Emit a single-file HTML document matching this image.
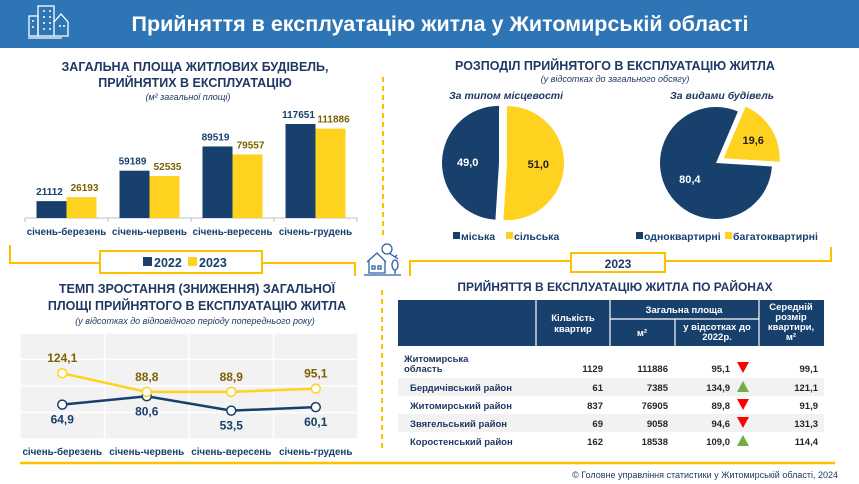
<!DOCTYPE html>
<html><head><meta charset="utf-8">
<style>
body{margin:0;width:859px;height:484px;background:#fff;overflow:hidden;font-family:"Liberation Sans","DejaVu Sans",sans-serif;}
svg{display:block}
</style></head>
<body>
<svg width="859" height="484" viewBox="0 0 859 484" xmlns="http://www.w3.org/2000/svg" font-family="Liberation Sans, DejaVu Sans, sans-serif">
<rect x="0" y="0" width="859" height="48" fill="#2E75B6"/>
<g stroke="#fff" stroke-width="1.3" fill="none">
<rect x="38" y="6" width="16" height="30"/><rect x="29" y="16" width="9" height="20"/><path d="M54 22 L61 14 L68 22 L68 36 L54 36"/><line x1="28" y1="38" x2="62" y2="38"/>
<path d="M43 11h2M49 11h2M43 17h2M49 17h2M43 23h2M49 23h2M43 29h2M49 29h2M32 21h2M32 27h2M59 26h2M63 26h2" stroke-width="1.5"/>
</g>
<text x="440" y="31" text-anchor="middle" font-size="21.5" font-weight="bold" fill="#fff">Прийняття в експлуатацію житла у Житомирській області</text>

<text text-anchor="middle" font-size="12.5" font-weight="bold" fill="#1F3864"><tspan x="195" y="71">ЗАГАЛЬНА ПЛОЩА ЖИТЛОВИХ БУДІВЕЛЬ,</tspan><tspan x="195" y="87">ПРИЙНЯТИХ В ЕКСПЛУАТАЦІЮ</tspan></text>
<text x="188" y="100" text-anchor="middle" font-size="9" font-style="italic" fill="#1F3864">(м² загальної площі)</text>
<g id="bars"></g>

<path d="M10 245 V263 H355 V276" stroke="#FFC000" stroke-width="2" fill="none"/>
<rect x="100" y="251" width="162" height="22" fill="#fff" stroke="#FFC000" stroke-width="2"/>
<rect x="143" y="257" width="9" height="9" fill="#17406D"/>
<text x="154" y="267" font-size="12.5" font-weight="bold" fill="#17406D">2022</text>
<rect x="188" y="257" width="9" height="9" fill="#FFD21F"/>
<text x="199" y="267" font-size="12.5" font-weight="bold" fill="#17406D">2023</text>

<text text-anchor="middle" font-size="12.5" font-weight="bold" fill="#1F3864"><tspan x="197" y="293">ТЕМП ЗРОСТАННЯ (ЗНИЖЕННЯ) ЗАГАЛЬНОЇ</tspan><tspan x="197" y="310">ПЛОЩІ ПРИЙНЯТОГО В ЕКСПЛУАТАЦІЮ ЖИТЛА</tspan></text>
<text x="195" y="324" text-anchor="middle" font-size="9" font-style="italic" fill="#1F3864">(у відсотках до відповідного періоду попереднього року)</text>
<g id="line"></g>
<line x1="20" y1="463" x2="395" y2="463" stroke="#FFC000" stroke-width="2.5"/>

<line x1="383" y1="77" x2="383" y2="236" stroke="#FFC000" stroke-width="2" stroke-dasharray="5,4"/>
<line x1="382" y1="290" x2="382" y2="451" stroke="#FFC000" stroke-width="2" stroke-dasharray="5,4"/>
<g stroke="#2E5FA8" stroke-width="1.3" fill="none">
<circle cx="387" cy="249" r="5"/><path d="M389 253 L398 259 M395 257 L397 255"/>
<path d="M367 262 L377 253 L386 262 M369 261 V273 H385 V261"/><rect x="372" y="266" width="3" height="3"/><rect x="378" y="266" width="3" height="3"/>
<ellipse cx="395" cy="265" rx="3" ry="5"/><line x1="395" y1="270" x2="395" y2="274"/><line x1="364" y1="275" x2="401" y2="275"/>
</g>

<text x="615" y="70" text-anchor="middle" font-size="12.5" font-weight="bold" fill="#1F3864">РОЗПОДІЛ ПРИЙНЯТОГО В ЕКСПЛУАТАЦІЮ ЖИТЛА</text>
<text x="615" y="82" text-anchor="middle" font-size="9" font-style="italic" fill="#1F3864">(у відсотках до загального обсягу)</text>
<text x="506" y="99" text-anchor="middle" font-size="10.5" font-weight="bold" font-style="italic" fill="#1F3864">За типом місцевості</text>
<text x="722" y="99" text-anchor="middle" font-size="10.5" font-weight="bold" font-style="italic" fill="#1F3864">За видами будівель</text>
<g id="pies"></g>
<rect x="453" y="232" width="7" height="7" fill="#17406D"/>
<text x="461" y="240" font-size="10.5" font-weight="bold" fill="#17406D">міська</text>
<rect x="506" y="232" width="7" height="7" fill="#FFD21F"/>
<text x="514" y="240" font-size="10.5" font-weight="bold" fill="#17406D">сільська</text>
<rect x="636" y="232" width="7" height="7" fill="#17406D"/>
<text x="644" y="240" font-size="10.5" font-weight="bold" fill="#17406D">одноквартирні</text>
<rect x="725" y="232" width="7" height="7" fill="#FFD21F"/>
<text x="733" y="240" font-size="10.5" font-weight="bold" fill="#17406D">багатоквартирні</text>

<path d="M410 276 V261 H831 V247" stroke="#FFC000" stroke-width="2" fill="none"/>
<rect x="571" y="253" width="94" height="19" fill="#fff" stroke="#FFC000" stroke-width="2"/>
<text x="618" y="268" text-anchor="middle" font-size="12" font-weight="bold" fill="#1F3864">2023</text>

<text x="615" y="291" text-anchor="middle" font-size="12" font-weight="bold" fill="#1F3864">ПРИЙНЯТТЯ В ЕКСПЛУАТАЦІЮ ЖИТЛА ПО РАЙОНАХ</text>
<g>
<rect x="398" y="300" width="426" height="46" fill="#17406D"/>
<g stroke="#fff" stroke-width="1.2"><line x1="536" y1="300" x2="536" y2="346"/><line x1="610" y1="300" x2="610" y2="346"/><line x1="675" y1="319" x2="675" y2="346"/><line x1="759" y1="300" x2="759" y2="346"/><line x1="610" y1="319" x2="759" y2="319"/></g>
<g fill="#fff" font-size="9.5" font-weight="bold" text-anchor="middle">
<text x="573" y="321">Кількість</text><text x="573" y="332">квартир</text>
<text x="684" y="313">Загальна площа</text>
<text x="642" y="336">м²</text>
<text x="717" y="330">у відсотках до</text><text x="717" y="340">2022р.</text>
<text x="791" y="310">Середній</text><text x="791" y="320">розмір</text><text x="791" y="330">квартири,</text><text x="791" y="340">м²</text>
</g></g>
<g id="table"></g>
<line x1="395" y1="463" x2="835" y2="463" stroke="#FFC000" stroke-width="2.5"/>
<text x="838" y="478" text-anchor="end" font-size="9" fill="#1F3864">© Головне управління статистики у Житомирській області, 2024</text>
</svg>
<script>
const NS='http://www.w3.org/2000/svg';
function mk(p,tag,a){const e=document.createElementNS(NS,tag);for(const k in a)e.setAttribute(k,a[k]);p.appendChild(e);return e;}
const NAVY='#17406D',YEL='#FFD21F',GOLD='#7F6000';
const barCategories=['січень-березень','січень-червень','січень-вересень','січень-грудень'];
const bars2022=[21112,59189,89519,117651];
const bars2023=[26193,52535,79557,111886];
const lineCategories=['січень-березень','січень-червень','січень-вересень','січень-грудень'];
const line2022=[64.9,80.6,53.5,60.1];
const line2023=[124.1,88.8,88.9,95.1];
const lineTicks=[0,50,100,150,200];
const pie1Values=[49.0,51.0];
const pie2Values=[80.4,19.6];
const tableNames=['Житомирська область','Бердичівський район','Житомирський район','Звягельський район','Коростенський район'];
const tableFlats=[1129,61,837,69,162];
const tableArea=[111886,7385,76905,9058,18538];
const tablePct=[95.1,134.9,89.8,94.6,109.0];
const tableAvg=[99.1,121.1,91.9,131.3,114.4];
const fmt=v=>v.toFixed(1).replace('.',',');

(function(){
 const g=document.getElementById('bars');
 const x0=25,x1=357,base=218,bw=30;
 const step=(x1-x0)/barCategories.length;
 const y=v=>base-v*(94/117651);
 const axis=mk(g,'line',{x1:x0,y1:base,x2:x1,y2:base,stroke:'#BFBFBF','stroke-width':1});
 
 barCategories.forEach((c,i)=>{
  const cx=x0+step*(i+0.5);
  const b1=mk(g,'rect',{x:cx-bw,y:y(bars2022[i]),width:bw,height:base-y(bars2022[i]),fill:NAVY});
  
  const b2=mk(g,'rect',{x:cx,y:y(bars2023[i]),width:bw,height:base-y(bars2023[i]),fill:YEL});
  
  const t1=mk(g,'text',{x:cx-bw/2-2,y:y(bars2022[i])-6,'text-anchor':'middle','font-size':10,'font-weight':'bold',fill:NAVY});t1.textContent=bars2022[i];
  
  const t2=mk(g,'text',{x:cx+bw/2+3,y:y(bars2023[i])-6,'text-anchor':'middle','font-size':10,'font-weight':'bold',fill:GOLD});t2.textContent=bars2023[i];
  
  const tk=mk(g,'line',{x1:x0+step*i,y1:base,x2:x0+step*i,y2:base+4,stroke:'#BFBFBF'});
  
  const l=mk(g,'text',{x:cx,y:235,'text-anchor':'middle','font-size':9.8,'font-weight':'bold',fill:NAVY});l.textContent=c;
  
 });
 const tk=mk(g,'line',{x1:x1,y1:base,x2:x1,y2:base+4,stroke:'#BFBFBF'});
 
})();

(function(){
 const g=document.getElementById('line');
 const x0=20,x1=358,top=333,bot=439;
 const step=(x1-x0)/lineCategories.length;
 const y=v=>bot-(v-lineTicks[0])/(lineTicks[lineTicks.length-1]-lineTicks[0])*(bot-top);
 const bg=mk(g,'rect',{x:x0,y:top,width:x1-x0,height:bot-top,fill:'#F2F2F2'});
 
 lineTicks.forEach(t=>{const l=mk(g,'line',{x1:x0,y1:y(t),x2:x1,y2:y(t),stroke:'#fff','stroke-width':1.5});
  });
 for(let i=0;i<=lineCategories.length;i++){const l=mk(g,'line',{x1:x0+step*i,y1:top,x2:x0+step*i,y2:bot,stroke:'#fff','stroke-width':1.5});
  }
 const cx=i=>x0+step*(i+0.5);
 [[line2022,NAVY,'2022'],[line2023,YEL,'2023']].forEach(([d,c,n])=>{
  const p=mk(g,'polyline',{points:d.map((v,i)=>cx(i)+','+y(v)).join(' '),fill:'none',stroke:c,'stroke-width':2.5});
  
 });
 [[line2022,NAVY,'2022'],[line2023,YEL,'2023']].forEach(([d,c,n])=>{
  d.forEach((v,i)=>{
   const m=mk(g,'circle',{cx:cx(i),cy:y(v),r:4.5,fill:'#fff',stroke:c,'stroke-width':1.5});
   
   const above=n==='2023';
   const t=mk(g,'text',{x:cx(i),y:above?y(v)-11:y(v)+19,'text-anchor':'middle','font-size':12,'font-weight':'bold',fill:above?GOLD:NAVY});
   t.textContent=fmt(v);
   
  });
 });
 lineCategories.forEach((c,i)=>{const l=mk(g,'text',{x:cx(i),y:455,'text-anchor':'middle','font-size':9.8,'font-weight':'bold',fill:NAVY});l.textContent=c;
  });
})();

(function(){
 const g=document.getElementById('pies');
 function slice(cx,cy,r,a0,a1,fill,name){
  const p=(a)=>[cx+r*Math.sin(a),cy-r*Math.cos(a)];
  const [xa,ya]=p(a0),[xb,yb]=p(a1);
  const large=(a1-a0)>Math.PI?1:0;
  const s=mk(g,'path',{d:`M${cx},${cy} L${xa},${ya} A${r},${r} 0 ${large} 1 ${xb},${yb} Z`,fill:fill});
  
 }
 function pie(cx,cy,r,vals,start,explode,names,lblPos){
  const tot=vals.reduce((a,b)=>a+b,0);let a=start;
  vals.forEach((v,i)=>{
   const a1=a+v/tot*2*Math.PI, mid=(a+a1)/2, off=explode[i];
   const ox=cx+off*Math.sin(mid), oy=cy-off*Math.cos(mid);
   slice(ox,oy,r,a,a1,i===0?NAVY:YEL,names[i]);
   const lr=r*lblPos[i];
   const t=mk(g,'text',{x:ox+lr*Math.sin(mid),y:oy-lr*Math.cos(mid)+4,'text-anchor':'middle','font-size':11,'font-weight':'bold',fill:i===0?'#fff':'#1F1F1F'});
   t.textContent=fmt(v);
   
   a=a1;
  });
 }
 const t1=pie1Values[0]+pie1Values[1];
 pie(503,163,57,pie1Values,-pie1Values[0]/t1*2*Math.PI,[4,4],['pie1-urban-slice','pie1-rural-slice'],[0.55,0.55]);
 const t2=pie2Values[0]+pie2Values[1];
 const ys=23*Math.PI/180+pie2Values[1]/t2*2*Math.PI;
 pie(716,163,56,pie2Values,ys,[0,9],['pie2-single-slice','pie2-multi-slice'],[0.55,0.62]);
})();

(function(){
 const g=document.getElementById('table');
 const rowsY=[350,378,396,414,432];const rh=[27,18,18,18,18];
 tableNames.forEach((n,i)=>{
  if(i%2===1){const r=mk(g,'rect',{x:398,y:rowsY[i],width:426,height:rh[i],fill:'#F2F2F2'});
   }
  const ty=rowsY[i]+rh[i]-5;
  const fs=9.5;
  if(i===0){const t=mk(g,'text',{x:404,y:362,'font-size':fs,'font-weight':'bold',fill:'#1F3864'});t.textContent='Житомирська';
   
   const t2=mk(g,'text',{x:404,y:372,'font-size':fs,'font-weight':'bold',fill:'#1F3864'});t2.textContent='область';
   }
  else{const t=mk(g,'text',{x:410,y:ty,'font-size':fs,'font-weight':'bold',fill:'#1F3864'});t.textContent=n;
   }
  [[603,tableFlats[i]],[668,tableArea[i]],[730,fmt(tablePct[i])],[818,fmt(tableAvg[i])]].forEach(([x,v])=>{
   const t=mk(g,'text',{x:x,y:ty,'text-anchor':'end','font-size':fs,'font-weight':'bold',fill:'#262626'});t.textContent=v;
   });
  const up=tablePct[i]>=100, ax=743, ay=ty-4;
  const tri=mk(g,'path',{d:up?`M${ax-6},${ay+5} L${ax+6},${ay+5} L${ax},${ay-6} Z`:`M${ax-6},${ay-6} L${ax+6},${ay-6} L${ax},${ay+5} Z`,fill:up?'#70AD47':'#FF0000'});
  
 });
})();
</script>
</body></html>
